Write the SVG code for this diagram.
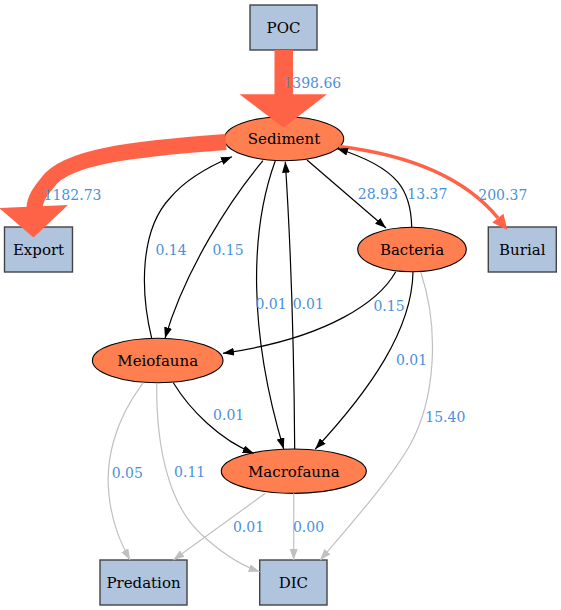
<svg xmlns="http://www.w3.org/2000/svg" width="561" height="610" viewBox="0 0 561 610">
<defs>
<style>
.box{fill:#b0c4de;stroke:#444;stroke-width:1.4}
.ell{fill:#ff7f50;stroke:#000;stroke-width:1.1}
.nt{font-family:"DejaVu Serif","Liberation Serif",serif;font-size:15px;fill:#000;text-anchor:middle}
.el{font-family:"DejaVu Serif","Liberation Serif",serif;font-size:14px;fill:#4a90d9;text-anchor:middle}
.blk{fill:none;stroke:#000;stroke-width:1.2;marker-end:url(#ab)}
.gry{fill:none;stroke:#c0c0c0;stroke-width:1.2;marker-end:url(#ag)}
.big{fill:#ff6347;stroke:none}
</style>
<marker id="ab" markerWidth="11" markerHeight="8" refX="11" refY="4" orient="auto" markerUnits="userSpaceOnUse"><path d="M0,0L11,4L0,8z" fill="#000"/></marker>
<marker id="ag" markerWidth="11" markerHeight="8" refX="11" refY="4" orient="auto" markerUnits="userSpaceOnUse"><path d="M0,0L11,4L0,8z" fill="#c0c0c0"/></marker>
</defs>
<rect width="561" height="610" fill="#fff"/>
<g id="nodes">
<g id="POC"><rect class="box" x="250" y="5" width="67" height="45"/><text class="nt" x="283.5" y="32.5">POC</text></g>
<g id="Sediment"><ellipse class="ell" cx="284" cy="138.7" rx="59.7" ry="22"/><text class="nt" x="284" y="143.5">Sediment</text></g>
<g id="Export"><rect class="box" x="4.5" y="227" width="68" height="45"/><text class="nt" x="38.5" y="255">Export</text></g>
<g id="Burial"><rect class="box" x="488.3" y="227" width="68" height="45"/><text class="nt" x="522.3" y="255">Burial</text></g>
<g id="Bacteria"><ellipse class="ell" cx="412" cy="249.5" rx="54.3" ry="22.2"/><text class="nt" x="412" y="255">Bacteria</text></g>
<g id="Meiofauna"><ellipse class="ell" cx="157.7" cy="360.5" rx="65.3" ry="22.2"/><text class="nt" x="157.7" y="365.5">Meiofauna</text></g>
<g id="Macrofauna"><ellipse class="ell" cx="293.8" cy="471.2" rx="72.5" ry="22.2"/><text class="nt" x="293.8" y="476.7">Macrofauna</text></g>
<g id="Predation"><rect class="box" x="100" y="560" width="87" height="45"/><text class="nt" x="143.5" y="588.3">Predation</text></g>
<g id="DIC"><rect class="box" x="259.7" y="560" width="67.3" height="45"/><text class="nt" x="293.4" y="588">DIC</text></g>
</g>
<g id="connectors">
<g id="e-POC-Sediment"><rect class="big" x="274.5" y="50" width="18.5" height="45"/><polygon class="big" points="239.5,94.3 327,94.3 283.5,127.7"/><text class="el" x="312.3" y="87.7">1398.66</text></g>
<g id="e-Sediment-Export"><path d="M226,142 C130,149 66,157 48,182 C39,193 35,199 34.5,208" fill="none" stroke="#ff6347" stroke-width="16"/><polygon class="big" points="-1,208 68,205 33.5,237.5"/><text class="el" x="72.5" y="200">1182.73</text></g>
<g id="e-Sediment-Burial"><path d="M339,146.5 C410,155 465,178 498,218" fill="none" stroke="#ff6347" stroke-width="3.5"/><polygon class="big" points="492.3,222.6 503.5,213.8 507.3,230"/><text class="el" x="502.8" y="200">200.37</text></g>
<g id="e-Sediment-Bacteria"><path class="blk" d="M307,160 L386,228"/><text class="el" x="377.8" y="198.5">28.93</text></g>
<g id="e-Bacteria-Sediment"><path class="blk" d="M411.7,227 C411,192 400,168 337,148.5"/><text class="el" x="427.4" y="198.5">13.37</text></g>
<g id="e-Sediment-Meiofauna"><path class="blk" d="M263,160.7 C230,200 185,270 165,338.3"/><text class="el" x="228" y="255">0.15</text></g>
<g id="e-Meiofauna-Sediment"><path class="blk" d="M151.7,338.3 C140,290 140,230 170,198 C185,180 205,168 232,156.7"/><text class="el" x="171" y="255">0.14</text></g>
<g id="e-Sediment-Macrofauna"><path class="blk" d="M275.3,160.7 C250,230 248,330 283.7,449"/><text class="el" x="271" y="309">0.01</text></g>
<g id="e-Macrofauna-Sediment"><path class="blk" d="M294.7,449 C294,350 291,250 285.3,161.7"/><text class="el" x="308.3" y="309">0.01</text></g>
<g id="e-Bacteria-Meiofauna"><path class="blk" d="M395.7,271.7 C380,300 330,338 223,353.3"/><text class="el" x="389" y="311">0.15</text></g>
<g id="e-Bacteria-Macrofauna"><path class="blk" d="M413,272 C412,330 370,390 315.3,449"/><text class="el" x="411.5" y="365">0.01</text></g>
<g id="e-Bacteria-DIC"><path class="gry" d="M420.7,272 C440,330 435,400 410,445 C390,480 350,525 320.3,560"/><text class="el" x="445.3" y="421.7">15.40</text></g>
<g id="e-Meiofauna-Macrofauna"><path class="blk" d="M173.3,382.7 C190,410 220,440 253.7,453.3"/><text class="el" x="228.7" y="420">0.01</text></g>
<g id="e-Meiofauna-Predation"><path class="gry" d="M143.3,382.7 C115,420 105,460 109,495 C112,525 122,545 130,560"/><text class="el" x="127.3" y="478.3">0.05</text></g>
<g id="e-Meiofauna-DIC"><path class="gry" d="M156.7,383 C156,450 170,505 200,533 C220,552 240,565 259.7,571.7"/><text class="el" x="189.7" y="477">0.11</text></g>
<g id="e-Macrofauna-Predation"><path class="gry" d="M265.3,493.3 L173.3,560"/><text class="el" x="248.5" y="531.7">0.01</text></g>
<g id="e-Macrofauna-DIC"><path class="gry" d="M293.7,493.3 L293.7,560"/><text class="el" x="308.5" y="531.7">0.00</text></g>
</g>
</svg>
